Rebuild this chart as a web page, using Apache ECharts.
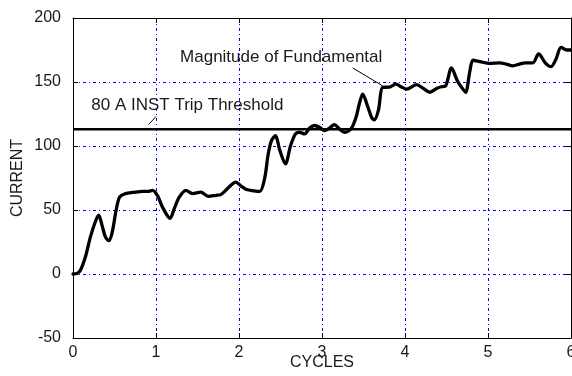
<!DOCTYPE html>
<html>
<head>
<meta charset="utf-8">
<title>Current vs cycles</title>
<script src="https://cdn.jsdelivr.net/npm/echarts@6/dist/echarts.min.js"></script>
<style>
  html, body { margin: 0; padding: 0; background: #fff; }
  #chart { width: 572px; height: 376px; }
</style>
</head>
<body>
<div id="chart"></div>
<script>
// Measured current magnitude (A) against time in cycles
const cycles = [0, 0.05, 0.09, 0.15, 0.21, 0.27, 0.31, 0.35, 0.39, 0.43, 0.47, 0.52, 0.56, 0.62, 0.70, 0.76, 0.84, 0.90, 0.96,
  1.02, 1.08, 1.17, 1.22, 1.28, 1.36, 1.44, 1.54, 1.63, 1.72, 1.78, 1.88, 1.96,
  2.03, 2.09, 2.18, 2.25, 2.31, 2.35, 2.39, 2.44, 2.49, 2.56, 2.62, 2.68, 2.73, 2.79, 2.85, 2.91, 2.97,
  3.03, 3.09, 3.15, 3.21, 3.27, 3.35, 3.41, 3.45, 3.49, 3.55, 3.60, 3.63, 3.68, 3.73, 3.81, 3.89, 3.96,
  4.02, 4.14, 4.22, 4.30, 4.38, 4.44, 4.49, 4.56, 4.63, 4.68, 4.73, 4.78, 4.82, 4.90,
  5.02, 5.14, 5.22, 5.30, 5.38, 5.45, 5.54, 5.61, 5.69, 5.76, 5.82, 5.88, 5.95, 6.0];
const current = [0, 0.5, 3, 13.5, 29, 41, 46, 38, 29, 26, 32, 50, 60, 62.5, 63.5, 64, 64.5, 64.5, 65.4,
  61, 52, 43.5, 51, 60, 65.4, 62.8, 64, 60.7, 61.5, 62, 68, 71.8,
  68.5, 66, 65, 64.5, 75, 93, 104, 108, 97, 86, 100, 109.5, 110.7, 109.5, 114, 116, 114.6,
  112, 114, 116.7, 113.4, 110.7, 113.4, 122.4, 133, 140.6, 131, 122, 120.4, 128, 145.8, 146, 148.4, 146,
  144.5, 148, 145, 142, 145, 146.3, 147, 161, 151, 146, 142, 158, 167, 166,
  164.5, 165, 164, 162.6, 164, 165, 165, 172, 165, 162, 168, 177, 175, 175];

// Instantaneous trip threshold: 80 A rms peak (80 * sqrt 2)
const tripLevel = 113;

// Axis ranges and ticks
const xMin = 0, xMax = 6, xStep = 1;
const yMin = -50, yMax = 200, yStep = 50;

// Text callouts, anchored in data coordinates
const notes = [
  { text: 'Magnitude of Fundamental', at: [1.29, 169], from: [3.37, 161], to: [3.73, 147] },
  { text: '80 A INST Trip Threshold', at: [0.22, 131.5], from: [0.91, 116.7], to: [1.0, 123] }
];

const font = '"Liberation Sans", Arial, sans-serif';
const textColor = '#1a1a1a';
const gridStyle = { color: '#0000ff', width: 1, type: [3, 3, 1, 3] };

const chart = echarts.init(document.getElementById('chart'), null, { renderer: 'canvas' });

const tickIn = { show: true, inside: true, length: 5, lineStyle: { color: '#000', width: 1 } };
const line = { show: true, onZero: false, lineStyle: { color: '#000', width: 1 } };

chart.setOption({
  animation: false,
  backgroundColor: '#fff',
  grid: { left: 73, right: 1, top: 18, bottom: 38, containLabel: false, outerBoundsMode: 'none' },
  xAxis: [
    {
      type: 'value', min: xMin, max: xMax, interval: xStep, position: 'bottom',
      name: 'CYCLES', nameLocation: 'middle', nameGap: 17, nameMoveOverlap: false,
      nameTextStyle: { fontFamily: font, fontSize: 16, color: textColor },
      axisLine: line, axisTick: tickIn,
      axisLabel: { fontFamily: font, fontSize: 16, color: textColor, margin: 7 },
      splitLine: { show: true, lineStyle: gridStyle }
    },
    {
      type: 'value', min: xMin, max: xMax, interval: xStep, position: 'top',
      axisLine: line, axisTick: tickIn, axisLabel: { show: false }, splitLine: { show: false }
    }
  ],
  yAxis: [
    {
      type: 'value', min: yMin, max: yMax, interval: yStep, position: 'left',
      name: 'CURRENT', nameLocation: 'middle', nameGap: 47, nameRotate: 90, nameMoveOverlap: false,
      nameTextStyle: { fontFamily: font, fontSize: 16, color: textColor },
      axisLine: line, axisTick: tickIn,
      axisLabel: { fontFamily: font, fontSize: 16, color: textColor, margin: 12 },
      splitLine: { show: true, lineStyle: gridStyle }
    },
    {
      type: 'value', min: yMin, max: yMax, interval: yStep, position: 'right',
      axisLine: line, axisTick: tickIn, axisLabel: { show: false }, splitLine: { show: false }
    }
  ],
  series: [
    {
      name: 'Trip threshold', type: 'line', showSymbol: false, silent: true,
      data: [[xMin, tripLevel], [xMax, tripLevel]],
      lineStyle: { color: '#000', width: 2.5 }, z: 3
    },
    {
      name: 'Fundamental magnitude', type: 'line', showSymbol: false, smooth: 0.3,
      data: cycles.map((c, i) => [c, current[i]]),
      lineStyle: { color: '#000', width: 3.3, join: 'round', cap: 'round' }, z: 4
    }
  ]
});

// Callout text and leader lines, placed from data coordinates
function px(p) { return chart.convertToPixel({ gridIndex: 0 }, p); }
const elements = [];
notes.forEach(n => {
  const t = px(n.at), a = px(n.from), b = px(n.to);
  elements.push({
    type: 'text', x: t[0], y: t[1], z: 10,
    style: { text: n.text, fontFamily: font, fontSize: 17, fill: textColor, align: 'left', verticalAlign: 'middle' }
  });
  elements.push({
    type: 'line', z: 10,
    shape: { x1: a[0], y1: a[1], x2: b[0], y2: b[1] },
    style: { stroke: '#000', lineWidth: 1 }
  });
});
chart.setOption({ graphic: elements });
</script>
</body>
</html>
